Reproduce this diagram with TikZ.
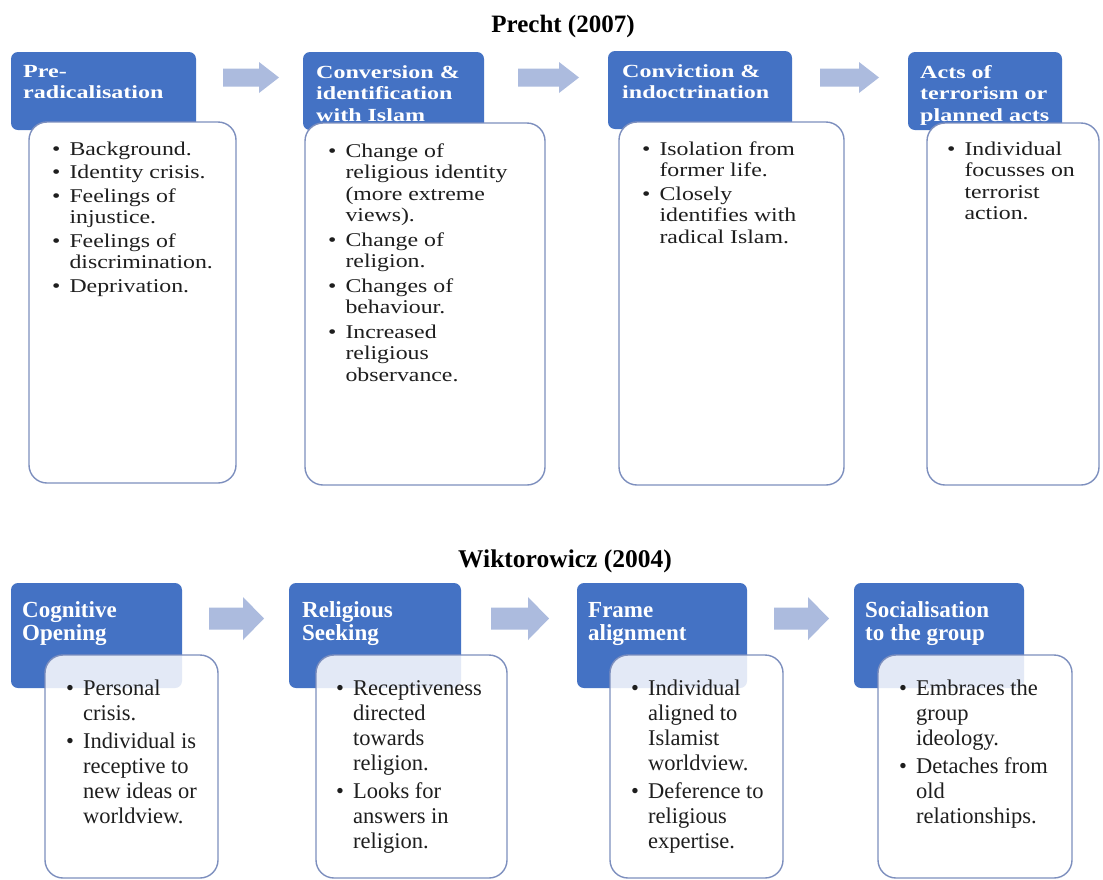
\documentclass[tikz,border=0pt]{standalone}
\usepackage{fontspec}
\setmainfont{Liberation Serif}
\newfontfamily\tophead{Liberation Serif}[FakeStretch=1.3]
\newfontfamily\topbody{Liberation Serif}[FakeStretch=1.22]
\definecolor{hdr}{RGB}{68,114,196}
\definecolor{bdr}{RGB}{125,143,190}
\definecolor{arr}{RGB}{172,187,222}
\definecolor{txt}{RGB}{30,30,30}
\newcommand{\lns}[1]{\begin{tabular}[t]{@{}l@{}}#1\end{tabular}}
\newcommand{\blt}[2]{\begin{tabular}[t]{@{}l@{\hspace{#1}}l@{}}#2\end{tabular}}
\newcommand{\blkarrow}[6]{\fill[arr] (#1,#3-#4) -- (#2-#6,#3-#4) -- (#2-#6,#3-#5) -- (#2,#3) -- (#2-#6,#3+#5) -- (#2-#6,#3+#4) -- (#1,#3+#4) -- cycle;}
\tikzset{
  hdrbox/.style={fill=hdr, rounded corners=7pt},
  bodybox/.style={draw=bdr, line width=1.4pt, fill=white, rounded corners=18pt},
  bodyboxb/.style={bodybox, fill opacity=0.85},
  titletxt/.style={anchor=base, inner sep=0pt, text=black, font=\bfseries\fontsize{25}{28}\selectfont},
  tophd/.style={anchor=base west, inner sep=0pt, text=white, font=\tophead\bfseries\fontsize{18.5}{21.5}\selectfont},
  topbd/.style={anchor=base west, inner sep=0pt, text=txt, font=\topbody\fontsize{19.5}{21.5}\selectfont},
  bothd/.style={anchor=base west, inner sep=0pt, text=white, font=\bfseries\fontsize{23}{23}\selectfont},
  botbd/.style={anchor=base west, inner sep=0pt, text=txt, font=\fontsize{22.5}{25}\selectfont},
}
\begin{document}
\begin{tikzpicture}[x=1pt,y=-1pt]
\useasboundingbox[fill=white] (0,0) rectangle (1103,879);

% ---------- Titles
\node[titletxt] (t1) at (563,32) {Precht (2007)};
\node[titletxt, font=\bfseries\fontsize{25.5}{28}\selectfont] (t2) at (565,567) {Wiktorowicz (2004)};

% ---------- Top row
\fill[hdrbox] (11,52) rectangle (196,130);
\fill[hdrbox] (303,52) rectangle (484,130);
\fill[hdrbox] (608,51) rectangle (792,129);
\fill[hdrbox] (908,52) rectangle (1062,130);

\path[bodybox] (29,122) rectangle (236,483);
\path[bodybox] (305,123) rectangle (545,485);
\path[bodybox] (619,122) rectangle (844,485);
\path[bodybox] (927,123) rectangle (1099,485);

\blkarrow{223}{279}{77.5}{9}{15.5}{20}
\blkarrow{518}{579}{77.5}{9}{15.5}{20}
\blkarrow{820}{879}{77.5}{9}{15.5}{20}

\node[tophd] (h1) at (23,77) {\lns{Pre-\\radicalisation}};
\node[tophd] (h2) at (316,78) {\lns{Conversion \&\\identification\\with Islam}};
\node[tophd] (h3) at (622,77) {\lns{Conviction \&\\indoctrination}};
\node[tophd] (h4) at (920,78) {\lns{Acts of\\terrorism or\\planned acts}};

\node[topbd] (b1) at (52,155) {\blt{9pt}{%
\textbullet & Background.\\[2pt]
\textbullet & Identity crisis.\\[2pt]
\textbullet & Feelings of\\ & injustice.\\[2pt]
\textbullet & Feelings of\\ & discrimination.\\[2pt]
\textbullet & Deprivation.}};
\node[topbd] (b2) at (328,157) {\blt{9pt}{%
\textbullet & Change of\\ & religious identity\\ & (more extreme\\ & views).\\[3pt]
\textbullet & Change of\\ & religion.\\[3pt]
\textbullet & Changes of\\ & behaviour.\\[3pt]
\textbullet & Increased\\ & religious\\ & observance.}};
\node[topbd] (b3) at (642,155) {\blt{9pt}{%
\textbullet & Isolation from\\ & former life.\\[2pt]
\textbullet & Closely\\ & identifies with\\ & radical Islam.}};
\node[topbd] (b4) at (947,155) {\blt{9pt}{%
\textbullet & Individual\\ & focusses on\\ & terrorist\\ & action.}};

% ---------- Bottom row
\fill[hdrbox] (11,583) rectangle (182,688);
\fill[hdrbox] (289,583) rectangle (461,688);
\fill[hdrbox] (577,583) rectangle (747,688);
\fill[hdrbox] (854,583) rectangle (1024,688);

\path[bodyboxb] (45,655) rectangle (218,878);
\path[bodyboxb] (316,655) rectangle (507,878);
\path[bodyboxb] (610,655) rectangle (783,878);
\path[bodyboxb] (878,655) rectangle (1072,878);

\blkarrow{209}{264}{618.5}{11}{21.5}{21}
\blkarrow{491}{549}{618.5}{11}{21.5}{21}
\blkarrow{774}{829}{618.5}{11}{21.5}{21}

\node[bothd] (g1) at (22,617) {\lns{Cognitive\\Opening}};
\node[bothd] (g2) at (302,617) {\lns{Religious\\Seeking}};
\node[bothd] (g3) at (588,617) {\lns{Frame\\alignment}};
\node[bothd] (g4) at (865,617) {\lns{Socialisation\\to the group}};

\node[botbd] (c1) at (66,695) {\blt{9pt}{%
\textbullet & Personal\\ & crisis.\\[3pt]
\textbullet & Individual is\\ & receptive to\\ & new ideas or\\ & worldview.}};
\node[botbd] (c2) at (336,695) {\blt{9pt}{%
\textbullet & Receptiveness\\ & directed\\ & towards\\ & religion.\\[3pt]
\textbullet & Looks for\\ & answers in\\ & religion.}};
\node[botbd] (c3) at (631,695) {\blt{9pt}{%
\textbullet & Individual\\ & aligned to\\ & Islamist\\ & worldview.\\[3pt]
\textbullet & Deference to\\ & religious\\ & expertise.}};
\node[botbd] (c4) at (899,695) {\blt{9pt}{%
\textbullet & Embraces the\\ & group\\ & ideology.\\[3pt]
\textbullet & Detaches from\\ & old\\ & relationships.}};
\end{tikzpicture}
\end{document}
